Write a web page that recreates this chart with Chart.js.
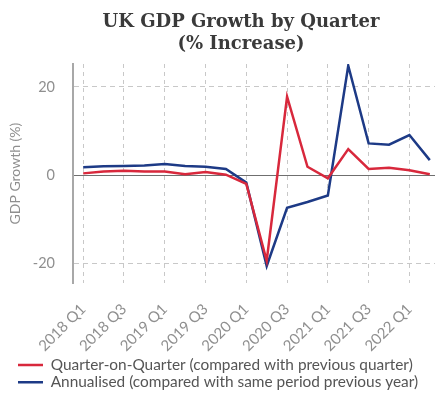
<!DOCTYPE html>
<html>
<head>
<meta charset="utf-8">
<script src="https://cdn.jsdelivr.net/npm/chart.js@4/dist/chart.umd.min.js"></script>
<style>
  html, body { margin: 0; padding: 0; background: #fff; overflow: hidden; width: 435px; height: 412px; }
  canvas { display: block; }
</style>
</head>
<body>
<canvas id="grafica" width="445" height="412"></canvas>
<script>
// datos
const TITULO = ["UK GDP Growth by Quarter", "(% Increase)"];
const TRIMESTRES = [
  "2018 Q1", "2018 Q2", "2018 Q3", "2018 Q4",
  "2019 Q1", "2019 Q2", "2019 Q3", "2019 Q4",
  "2020 Q1", "2020 Q2", "2020 Q3", "2020 Q4",
  "2021 Q1", "2021 Q2", "2021 Q3", "2021 Q4",
  "2022 Q1", "2022 Q2"
];
const QOQ = [0.4, 0.8, 1.0, 0.8, 0.8, 0.2, 0.7, 0.1, -2.0, -19.4, 17.8, 1.9, -0.7, 5.9, 1.4, 1.7, 1.1, 0.2];
const ANUAL = [1.8, 2.0, 2.1, 2.2, 2.5, 2.1, 1.9, 1.4, -1.7, -20.6, -7.4, -6.1, -4.6, 24.8, 7.2, 6.9, 9.1, 3.4];
const TICKS_Y = [-20, 0, 20];

const ROJO = "#d8283c";
const AZUL = "#1d3a86";

// titulo dibujado a mano para poder centrarlo donde esta en la imagen
const tituloPlugin = {
  id: "tituloPlugin",
  afterDraw(chart) {
    const ctx = chart.ctx;
    ctx.save();
    ctx.font = 'bold 18px "DejaVu Serif"';
    ctx.fillStyle = "#3a3a3a";
    ctx.textAlign = "center";
    ctx.textBaseline = "alphabetic";
    ctx.fillText(TITULO[0], 241, 27);
    ctx.fillText(TITULO[1], 241, 48.5);
    ctx.restore();
  }
};

const ctx = document.getElementById("grafica").getContext("2d");
new Chart(ctx, {
  type: "line",
  data: {
    labels: TRIMESTRES,
    datasets: [
      { label: "Quarter-on-Quarter (compared with previous quarter)", data: QOQ,
        borderColor: ROJO, backgroundColor: ROJO, borderWidth: 2.5, pointRadius: 0,
        pointStyle: "line", tension: 0, fill: false },
      { label: "Annualised (compared with same period previous year)", data: ANUAL,
        borderColor: AZUL, backgroundColor: AZUL, borderWidth: 2.5, pointRadius: 0,
        pointStyle: "line", tension: 0, fill: false }
    ]
  },
  plugins: [tituloPlugin],
  options: {
    responsive: false,
    animation: false,
    devicePixelRatio: 1,
    layout: { padding: { left: 16, right: 5, top: 64, bottom: 12 } },
    plugins: {
      title: { display: false },
      tooltip: { enabled: false },
      legend: {
        position: "bottom",
        align: "start",
        labels: {
          usePointStyle: true,
          pointStyle: "line",
          pointStyleWidth: 25,
          padding: 2,
          color: "#555",
          font: { family: "Lato", size: 15.4 }
        }
      }
    },
    scales: {
      x: {
        offset: true,
        afterFit: s => { s.height = 72; },
        grid: {
          display: true,
          drawTicks: false,
          offset: false,
          color: "#c8c8c8",
          lineWidth: 1
        },
        border: { display: false, dash: [4, 4] },
        ticks: {
          autoSkip: false,
          minRotation: 45,
          maxRotation: 45,
          padding: 17,
          color: "#8f8f8f",
          font: { family: "Lato", size: 15 },
          callback: (v, i) => (i % 2 === 0 ? TRIMESTRES[i] : null)
        }
      },
      y: {
        min: -24.5,
        max: 25.2,
        afterFit: s => { s.width = 57; },
        afterBuildTicks: s => { s.ticks = TICKS_Y.map(v => ({ value: v })); },
        grid: {
          drawTicks: false,
          color: c => (c.tick && c.tick.value === 0 ? "#6f6f6f" : "#c8c8c8"),
          lineWidth: 1
        },
        border: {
          display: true,
          color: "#a8a8a8",
          width: 2,
          dash: c => (c.tick && c.tick.value === 0 ? [] : [5, 4])
        },
        title: {
          display: true,
          text: "GDP Growth (%)",
          color: "#8f8f8f",
          font: { family: "Lato", size: 14 },
          padding: { top: -9, bottom: 0 }
        },
        ticks: {
          padding: 18,
          color: "#8f8f8f",
          font: { family: "Lato", size: 14.5 }
        }
      }
    }
  }
});
</script>
</body>
</html>
